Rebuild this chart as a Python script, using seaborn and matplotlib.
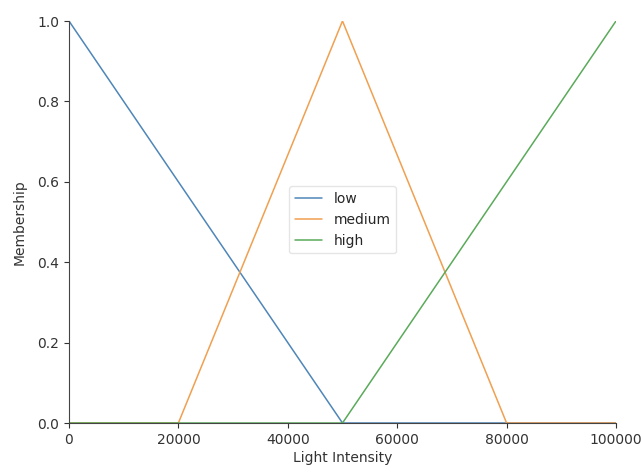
import matplotlib
matplotlib.use("Agg")
import matplotlib.pyplot as plt
import seaborn as sns
import pandas as pd

# universe points and membership values
light = [0, 20000, 50000, 80000, 100000]
low = [1.0, 0.6, 0.0, 0.0, 0.0]
medium = [0.0, 0.0, 1.0, 0.0, 0.0]
high = [0.0, 0.0, 0.0, 0.6, 1.0]
labels = ["low", "medium", "high"]

df = pd.DataFrame({"Light Intensity": light * 3,
                   "Membership": low + medium + high,
                   "term": sum([[l] * len(light) for l in labels], [])})

sns.set_style("ticks")
plt.rcParams['font.family'] = ['DejaVu Sans']

fig, ax = plt.subplots(figsize=(6.41, 4.73), dpi=100)
fig.subplots_adjust(left=0.1076, right=0.961, top=0.9556, bottom=0.1057)

sns.lineplot(data=df, x="Light Intensity", y="Membership", hue="term",
             palette=["#4f86b8", "#f0a050", "#5aaa5a"], linewidth=1.1, ax=ax)

ax.set_xlim(0, 100000)
ax.set_ylim(0, 1.0)
ax.set_xticks([0, 20000, 40000, 60000, 80000, 100000])
ax.set_yticks([0.0, 0.2, 0.4, 0.6, 0.8, 1.0])
ax.tick_params(labelsize=10, colors="#333333")
ax.set_xlabel("Light Intensity", fontsize=10, labelpad=3, color="#333333")
ax.set_ylabel("Membership", fontsize=10, labelpad=8, color="#333333")
for s in ax.spines.values():
    s.set_color("#444444")
sns.despine(ax=ax)

leg = ax.legend(loc="center", bbox_to_anchor=(0.5, 0.505), fontsize=10, framealpha=0.5)

fig.savefig("out.png", dpi=100)
